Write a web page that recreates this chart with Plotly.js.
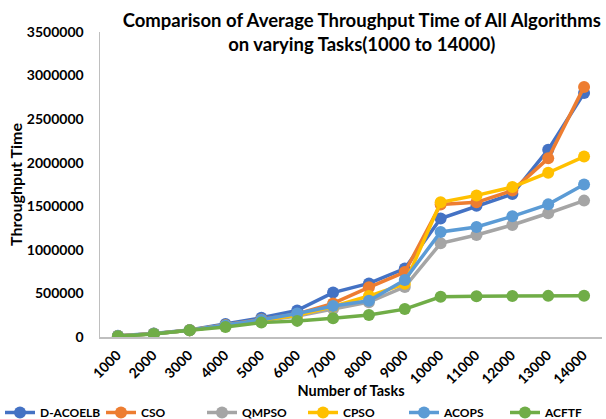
<!DOCTYPE html>
<html><head><meta charset="utf-8">
<script src="https://cdn.plot.ly/plotly-3.0.1.min.js"></script>
<style>body{margin:0;background:#fff}#c{width:606px;height:419px}</style>
</head><body><div id="c"></div>
<script>
const tasks = ["1000","2000","3000","4000","5000","6000","7000","8000","9000","10000","11000","12000","13000","14000"];
const dAcoelb = [15000,40000,80000,150000,220000,305000,510000,615000,785000,1360000,1505000,1640000,2150000,2800000];
const cso     = [12000,38000,78000,135000,200000,265000,385000,570000,745000,1520000,1545000,1680000,2050000,2870000];
const qmpso   = [12000,36000,76000,130000,190000,240000,320000,400000,575000,1075000,1170000,1285000,1420000,1565000];
const cpso    = [12000,37000,77000,132000,195000,250000,350000,470000,610000,1545000,1625000,1720000,1885000,2070000];
const acops   = [12000,37000,78000,133000,198000,270000,355000,415000,655000,1205000,1262000,1385000,1522000,1750000];
const acftf   = [8000,35000,78000,115000,165000,185000,215000,252000,320000,462000,468000,470000,472000,474000];

const names = ["D-ACOELB","CSO","QMPSO","CPSO","ACOPS","ACFTF"];
const series = [dAcoelb,cso,qmpso,cpso,acops,acftf];
const colors = ["#4472C4","#ED7D31","#A5A5A5","#FFC000","#5B9BD5","#70AD47"];

const FONT = "Lato, 'Open Sans', sans-serif";
const traces = series.map((s,i)=>({
  x: tasks, y: s, name: names[i], type:"scatter", mode:"lines+markers",
  line:{color:colors[i], width:3.5},
  marker:{color:colors[i], size:12}
}));

const layout = {
  width:606, height:419,
  margin:{l:100,r:4,t:32,b:82,autoexpand:false},
  paper_bgcolor:"#fff", plot_bgcolor:"#fff",
  font:{family:FONT, color:"#000"},
  title:{text:"<b>Comparison of Average Throughput Time of All Algorithms<br>on varying Tasks(1000 to 14000)</b>",
    font:{size:18.5, family:FONT, color:"#000"}, xref:"container", x:0.597, xanchor:"center",
    yref:"container", y:0.935, yanchor:"top"},
  xaxis:{type:"category", range:[-0.5,13.5], showgrid:false, zeroline:false,
    showline:true, linecolor:"#BFBFBF", linewidth:1.5, ticks:"", tickangle:-45,
    ticklabelstandoff:3, ticklabelshift:-1,
    tickfont:{size:14, family:FONT, weight:"bold"},
    title:{text:"<b>Number of Tasks</b>", font:{size:14.5, family:FONT}, standoff:0}},
  yaxis:{range:[0,3500000], dtick:500000, showgrid:false, zeroline:false,
    showline:true, linecolor:"#BFBFBF", linewidth:1.5, ticks:"", ticklabelstandoff:12,
    tickformat:"d", tickfont:{size:14, family:FONT, weight:"bold"},
    title:{text:"<b>Throughput Time</b>", font:{size:16, family:FONT}, standoff:0}},
  showlegend:true,
  legend:{orientation:"h", x:-0.1992, y:-0.2, xanchor:"left", yanchor:"top",
    entrywidth:56, font:{size:12, family:FONT, weight:"bold"}, tracegroupgap:0, bgcolor:"rgba(0,0,0,0)"}
};
Plotly.newPlot("c", traces, layout, {displayModeBar:false, staticPlot:true});
</script></body></html>
